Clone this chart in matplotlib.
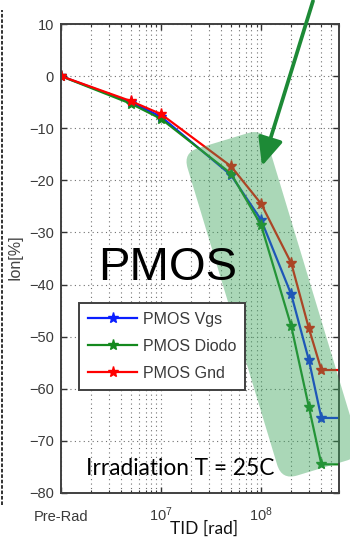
import numpy as np
import matplotlib
matplotlib.use("Agg")
import matplotlib.pyplot as plt
from matplotlib.patches import FancyBboxPatch, FancyArrowPatch
from matplotlib.lines import Line2D
from matplotlib.ticker import NullFormatter
from matplotlib.transforms import Affine2D, IdentityTransform

plt.rcParams['font.family'] = ['Liberation Sans', 'DejaVu Sans']
plt.rcParams['mathtext.default'] = 'regular'

# datos (TID en rad, Ion en %)
tid = [1e6, 5e6, 1e7, 5e7, 1e8, 2e8, 3e8, 4e8, 1e9]
ion_vgs = [0, -5.0, -7.8, -19.0, -27.6, -41.9, -54.5, -65.6, -65.6]
ion_diodo = [0, -5.3, -8.2, -18.7, -28.6, -48.0, -63.5, -74.5, -74.5]
ion_gnd = [0, -4.8, -7.3, -17.3, -24.5, -35.9, -48.4, -56.4, -56.4]
series = [ion_vgs, ion_diodo, ion_gnd]
nombres = ["PMOS Vgs", "PMOS Diodo", "PMOS Gnd"]
colores = ['#0a1eff', '#14891e', '#ff0000']

xticks = [1e6, 1e7, 1e8]
xticklabels = ['Pre-Rad', '$10^7$', '$10^8$']
yticks = np.arange(-80, 11, 10)

W, H = 350, 555
fig = plt.figure(figsize=(W / 100, H / 100), dpi=100)
ax = fig.add_axes([61 / W, 1 - 493 / H, 278 / W, 469 / H])

for y, nom, c in zip(series, nombres, colores):
    ax.plot(tid, y, c=c, lw=1.6, marker='*', ms=8, label=nom, zorder=2)

ax.set_xscale('log')
ax.set_xlim(1e6, 6e8)
ax.set_ylim(-80, 10)
ax.set_yticks(yticks)
ax.set_xticks(xticks)
ax.set_xticklabels(xticklabels)
ax.xaxis.set_minor_formatter(NullFormatter())
for lab in ax.get_xticklabels():
    lab.set_va('baseline')

ax.grid(True, which='major', axis='both', ls=(0, (1, 3)), color='#707070', lw=0.8)
ax.grid(True, which='minor', axis='x', ls=(0, (1, 3)), color='#707070', lw=0.8)
ax.tick_params(which='both', direction='in', top=True, right=True, color='#333333',
               labelcolor='#3a3a3a', labelsize=10.5)
ax.tick_params(which='major', length=4.5, width=1)
ax.tick_params(which='minor', length=2.5, width=0.8)
ax.tick_params(axis='x', pad=20)
ax.tick_params(axis='y', pad=5)
for s in ax.spines.values():
    s.set_color('#404040')
    s.set_linewidth(1.4)

leg = ax.legend(loc='upper left', bbox_to_anchor=(0.065, 0.405), borderaxespad=0,
                fontsize=11.5, handlelength=3.1, handletextpad=0.35, labelspacing=0.75,
                borderpad=0.55, numpoints=1, fancybox=False, framealpha=1)
leg.get_frame().set_edgecolor('#404040')
leg.get_frame().set_linewidth(1.4)
for t in leg.get_texts():
    t.set_color('#3a3a3a')
leg.set_zorder(5)

# banda verde resaltando la caida
banda = FancyBboxPatch((-42, 0), 84, 342, boxstyle='round,pad=0,rounding_size=16',
                       transform=Affine2D().rotate_deg(16.8).translate(322, 87),
                       facecolor='#3aa35a', alpha=0.43, edgecolor='none',
                       clip_on=False, zorder=3)
ax.add_patch(banda)

flecha = FancyArrowPatch((313, H - 1), (262, H - 166), arrowstyle='-|>,head_length=0.85,head_width=0.38',
                         mutation_scale=20, lw=2.7, color='#1d8a36', shrinkA=0, shrinkB=0,
                         transform=IdentityTransform(), zorder=6)
fig.add_artist(flecha)

fig.text(167.5 / W, 1 - 280 / H, 'PMOS', fontsize=34, ha='center', va='baseline', color='black')
fig.text(86 / W, 1 - 475 / H, 'Irradiation T = 25C', family='Lato', fontsize=16.3,
         ha='left', va='baseline', color='black')
fig.text(204 / W, 1 - 534 / H, 'TID [rad]', family='Lato', fontsize=12.5,
         ha='center', va='baseline', color='#111111')
fig.text(15 / W, 1 - 257 / H, 'Ion[%]', rotation=90, fontsize=11.5, ha='center',
         va='center', color='#444444')

fig.add_artist(Line2D([1.5 / W, 1.5 / W], [1 - 505 / H, 1 - 10 / H], color='#222222',
                      lw=1.3, ls=(0, (2, 1))))

plt.savefig("out.png", dpi=100)
plt.close()
